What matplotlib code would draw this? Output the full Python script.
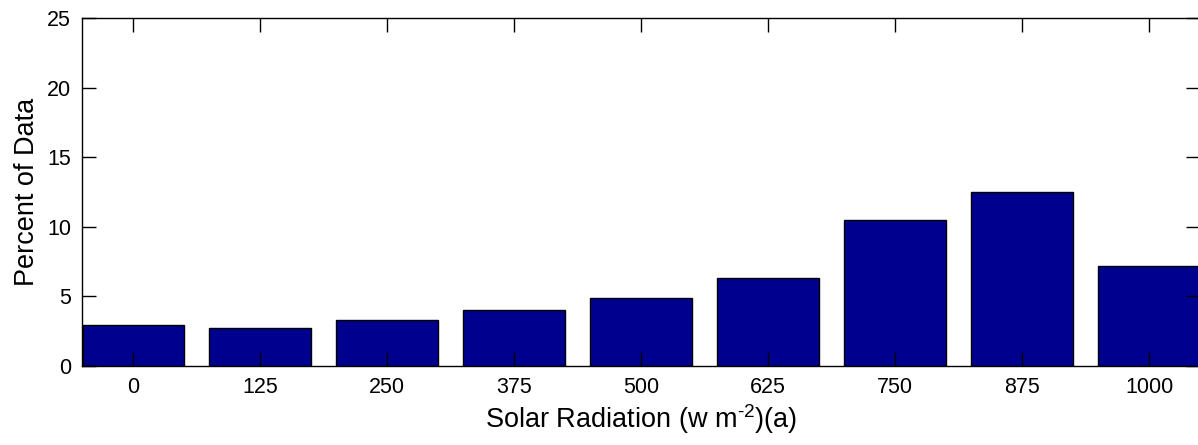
import matplotlib
matplotlib.use("Agg")
import matplotlib.pyplot as plt

plt.rcParams['font.family'] = ['Liberation Sans', 'DejaVu Sans']
plt.rcParams['mathtext.fontset'] = 'custom'
plt.rcParams['mathtext.rm'] = 'Liberation Sans'
plt.rcParams['mathtext.default'] = 'regular'

# Solar radiation bins and share of data in each (percent)
radiation = [0, 125, 250, 375, 500, 625, 750, 875, 1000]
percent = [2.95, 2.7, 3.3, 4.05, 4.9, 6.35, 10.5, 12.5, 7.2]
yticks = [0, 5, 10, 15, 20, 25]

fig = plt.figure(figsize=(11.98, 4.45), dpi=100)
ax = fig.add_axes([82/1198, 79/445, 1118/1198, 348/445])

ax.bar(radiation, percent, width=100, color='#00008F', edgecolor='black', linewidth=1.0)

ax.set_xlim(-50.5, 1050)
ax.set_ylim(0, 25)
ax.set_xticks(radiation)
ax.set_yticks(yticks)
ax.tick_params(direction='in', length=10, width=1, top=True, right=True,
               labelsize=15.5, pad=8, colors='black')
for s in ax.spines.values():
    s.set_linewidth(1)

ax.set_xlabel('Solar Radiation (w m$^{\\text{-2}}$)(a)', fontsize=19.5, labelpad=3)
ax.set_ylabel('Percent of Data', fontsize=19.5, labelpad=5)

fig.savefig('out.png', dpi=100)
